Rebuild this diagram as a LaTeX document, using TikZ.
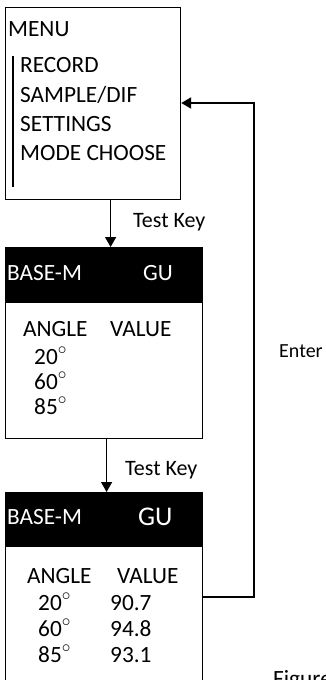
\documentclass[tikz,border=0pt]{standalone}
\usepackage{fontspec}
\setmainfont{Carlito}
\usetikzlibrary{arrows.meta,calc}

\newcommand{\degr}{\raisebox{0pt}[0pt][0pt]{$^{\circ}$}}

\begin{document}
\begin{tikzpicture}[x=1pt, y=-1pt, >={Triangle[width=11pt,length=10pt]},
  txt/.style={anchor=base west, inner sep=0pt, font=\fontsize{23.3}{27}\selectfont},
  bigtxt/.style={txt, font=\fontsize{27}{30}\selectfont},
  keytxt/.style={txt, font=\fontsize{22}{26}\selectfont},
  frame/.style={draw, line width=1.2pt, inner sep=0pt, anchor=north west},
  header/.style={fill=black, draw, line width=1.2pt, inner sep=0pt, anchor=north west,
    minimum width=197pt, minimum height=55pt},
  link/.style={->, line width=1.3pt}]

  \useasboundingbox (0,0) rectangle (326,680);

  % --- Pantalla de menu ---
  \node[frame, minimum width=175pt, minimum height=192pt] (menu) at (5,7) {};
  \node[txt] (menutitle) at (8,36.7) {MENU};
  \draw[line width=2pt] (13,56) -- (13,187);
  \foreach \item [count=\i] in {RECORD,SAMPLE/DIF,SETTINGS,MODE CHOOSE}
    \node[txt] (item\i) at (20,{72.7+29.3*(\i-1)}) {\item};

  % --- Primera medida (sin valores) ---
  \node[frame, minimum width=197pt, minimum height=191pt] (scr1) at (5,247) {};
  \node[header] (head1) at (5,247) {};
  \node[txt, white] (base1) at (7,280) {BASE-M};
  \node[txt, white] (gu1) at (143,280) {GU};
  \node[txt] (ang1) at (23,336.7) {ANGLE};
  \node[txt] (val1) at (110,336.7) {VALUE};
  \foreach \a [count=\i] in {20,60,85}
    \node[txt] (a1\i) at (34,{364+25*(\i-1)}) {\a\degr};

  % --- Segunda medida (con valores) ---
  \node[frame, minimum width=197pt, minimum height=240pt] (scr2) at (5,492) {};
  \node[header, minimum height=54pt] (head2) at (5,492) {};
  \node[txt, white] (base2) at (7,524) {BASE-M};
  \node[bigtxt, white] (gu2) at (138,525) {GU};
  \node[txt] (ang2) at (27,583) {ANGLE};
  \node[txt] (val2) at (117,583) {VALUE};
  \foreach \a/\v [count=\i] in {20/90.7,60/94.8,85/93.1}{
    \node[txt] (a2\i) at (38,{610+26*(\i-1)}) {\a\degr};
    \node[txt] (v2\i) at (110,{610+26*(\i-1)}) {\v};
  }

  % --- Flechas ---
  \draw[link] ([xshift=17.5pt]menu.south) -- ([xshift=6.5pt]scr1.north);
  \node[keytxt] (key1) at (133,227) {Test Key};
  \draw[link] ([xshift=2.5pt]scr1.south) -- ([xshift=2.5pt]scr2.north);
  \node[keytxt] (key2) at (125,475) {Test Key};

  % --- Retorno con Enter ---
  \coordinate (ret) at (254,103);
  \draw[->, line width=2pt] ($(scr2.north east)+(0,105)$) -| (ret) -- (ret -| menu.east);
  \node[keytxt, font=\fontsize{20}{24}\selectfont] (enter) at (279,357) {Enter};

  % --- Pie (cortado) ---
  \node[txt] (fig) at (273,686) {Figure};

\end{tikzpicture}
\end{document}
